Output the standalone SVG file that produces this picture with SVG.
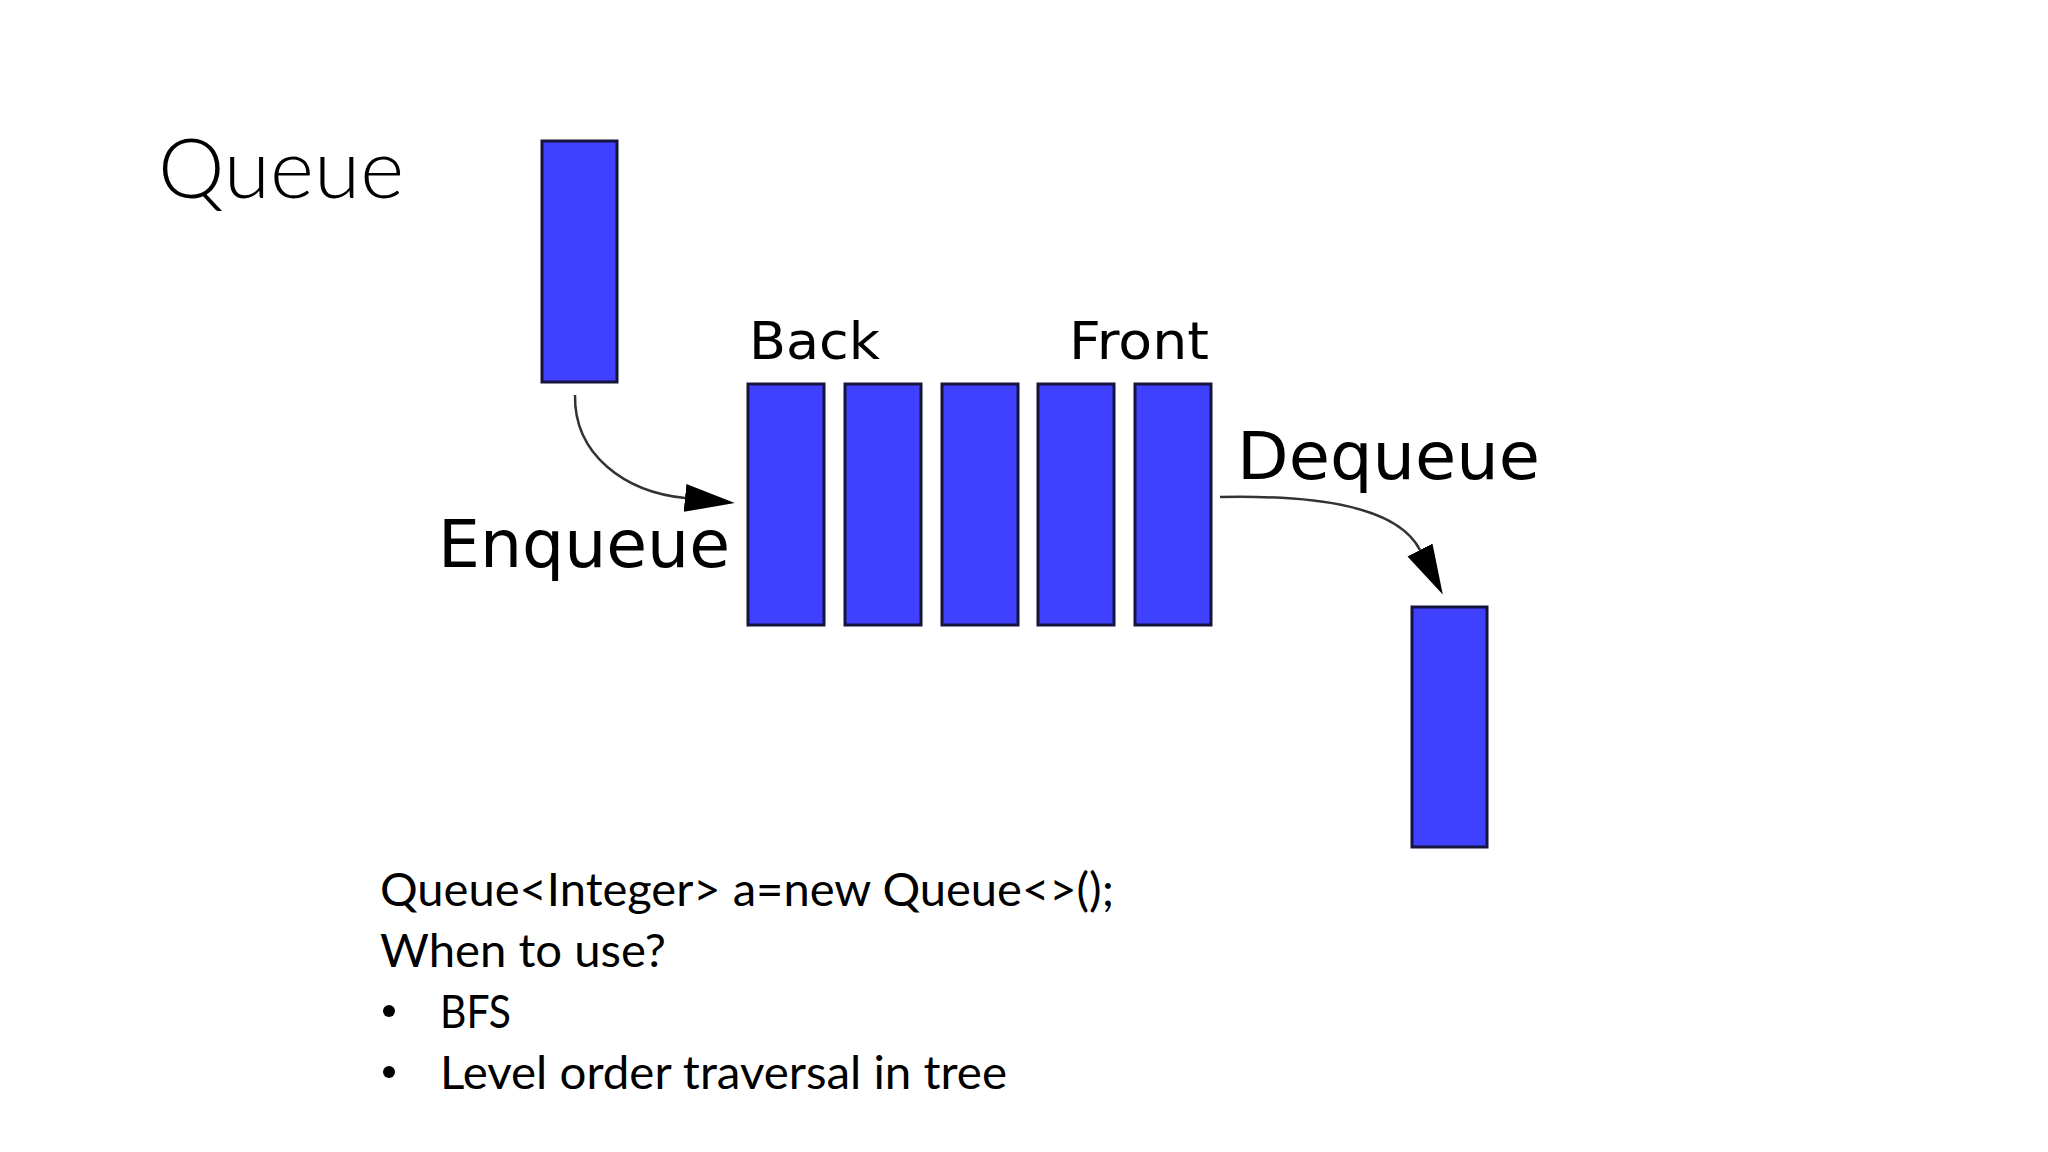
<svg xmlns="http://www.w3.org/2000/svg" width="2048" height="1152" viewBox="0 0 2048 1152">
<style>
.el{fill:#4040ff;stroke:#14143c;stroke-width:3}
.lbl{font-family:"DejaVu Sans",sans-serif;fill:#000}
.body{font-family:Lato,"Open Sans",sans-serif;font-size:46px;fill:#000}
.conn{fill:none;stroke:#333;stroke-width:2.5}
</style>
<defs>
<marker id="ah" markerUnits="userSpaceOnUse" viewBox="0 0 52 30" markerWidth="52" markerHeight="30" refX="0" refY="15" orient="auto">
<path d="M0,1 L50,15 L0,29 z" fill="#000"/>
</marker>
</defs>
<rect width="2048" height="1152" fill="#fff"/>
<g id="title">
<text x="158" y="198" font-family="Lato,'Open Sans',sans-serif" font-weight="300" font-size="82" textLength="246" lengthAdjust="spacingAndGlyphs">Queue</text>
</g>
<g id="incoming"><rect class="el" x="542" y="141" width="75" height="241"/></g>
<g id="queue">
<rect class="el" x="748" y="384" width="76" height="241"/>
<rect class="el" x="845" y="384" width="76" height="241"/>
<rect class="el" x="942" y="384" width="76" height="241"/>
<rect class="el" x="1038" y="384" width="76" height="241"/>
<rect class="el" x="1135" y="384" width="76" height="241"/>
</g>
<g id="outgoing"><rect class="el" x="1412" y="607" width="75" height="240"/></g>
<g id="labels">
<text class="lbl" x="749" y="359" font-size="52" textLength="131" lengthAdjust="spacingAndGlyphs">Back</text>
<text class="lbl" x="1069" y="359" font-size="52" textLength="140" lengthAdjust="spacingAndGlyphs">Front</text>
<text class="lbl" x="438" y="567" font-size="65" textLength="292" lengthAdjust="spacingAndGlyphs">Enqueue</text>
<text class="lbl" x="1237" y="479" font-size="65" textLength="303" lengthAdjust="spacingAndGlyphs">Dequeue</text>
</g>
<g id="connectors">
<path class="conn" d="M575,395 C574,455 625,492 685,498" marker-end="url(#ah)"/>
<path class="conn" d="M1220,497 C1320,495 1398,507 1420,550" marker-end="url(#ah)"/>
</g>
<g id="notes">
<text class="body" x="380" y="906" textLength="734" lengthAdjust="spacingAndGlyphs">Queue&lt;Integer&gt; a=new Queue&lt;&gt;();</text>
<text class="body" x="380" y="967" textLength="286" lengthAdjust="spacingAndGlyphs">When to use?</text>
<circle cx="389" cy="1011" r="6"/>
<text class="body" x="440" y="1028" textLength="71" lengthAdjust="spacingAndGlyphs">BFS</text>
<circle cx="389" cy="1072" r="6"/>
<text class="body" x="440" y="1089" textLength="567" lengthAdjust="spacingAndGlyphs">Level order traversal in tree</text>
</g>
</svg>
